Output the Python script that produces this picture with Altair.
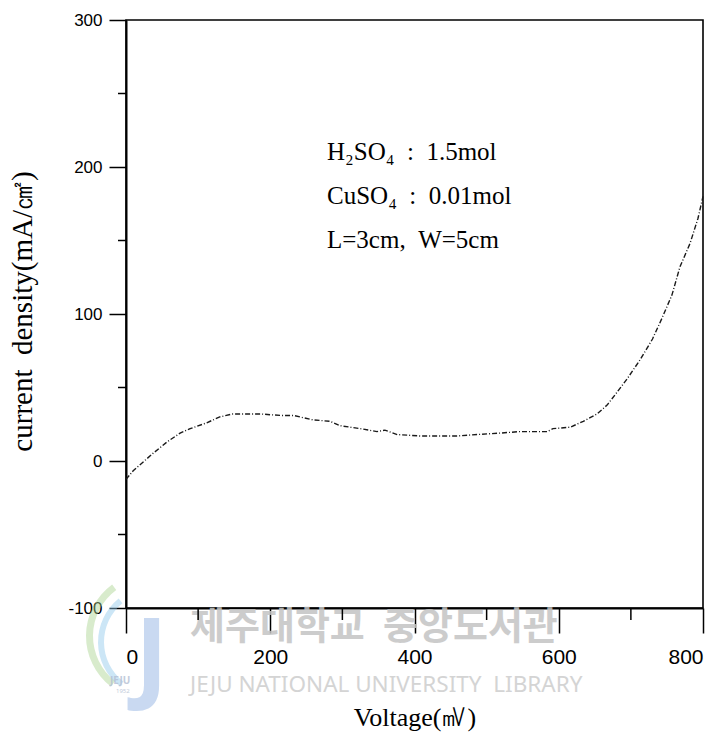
import altair as alt
import pandas as pd

# Polarisation curve: current density vs applied voltage
voltage_mv = [0, 10, 37, 57, 75, 89, 112, 130, 148, 186, 214, 232, 259, 283, 297,
              325, 348, 359, 376, 408, 435, 459, 487, 519, 546, 574, 584, 592, 616,
              634, 653, 667, 678, 695, 713, 730, 743, 757, 768, 782, 793, 800]
current_density = [-12.5, -6.6, 5, 13, 19, 22, 26, 30, 32, 32, 31, 31, 28, 27, 24,
                   22, 20, 21, 18, 17, 17, 17, 18, 19, 20, 20, 20, 22, 23,
                   27, 32, 38, 45, 56, 69, 83, 97, 113, 132, 148, 165, 180]

x_major = [0, 200, 400, 600, 800]
x_minor = [100, 300, 500, 700]
y_major = [-100, 0, 100, 200, 300]
y_minor = [-50, 50, 150, 250]

NB = "\u00a0"
conditions = [f"H\u2082SO\u2084{NB}{NB}:{NB}{NB}1.5mol",
              f"CuSO\u2084{NB}{NB}:{NB}{NB}0.01mol",
              f"L=3cm,{NB}{NB}W=5cm"]
watermark_kr = ["제주대학교", "중앙도서관"]
watermark_en = f"JEJU NATIONAL UNIVERSITY{NB}{NB}LIBRARY"

# plot area geometry on the page
LEFT, TOP = 126, 20
W, H = 577, 588
SERIF = "Liberation Serif, Times New Roman, DejaVu Serif, serif"
TICKFONT = "Liberation Sans, Arial, sans-serif"
CJK = "Noto Sans CJK KR, Noto Sans, sans-serif"
SANS = "Noto Sans, DejaVu Sans, sans-serif"

xs = alt.Scale(domain=[0, 800], nice=False, zero=False)
ys = alt.Scale(domain=[-100, 300], nice=False, zero=False)

X_TITLE = "Voltage(㎷)"
Y_TITLE = f"current{NB}{NB}density(mA/㎠)"

x_axis = alt.Axis(values=x_major, tickSize=25, tickWidth=1.5, labelPadding=13,
                  labelFont=TICKFONT, labelFontSize=21, labelColor="black",
                  labelExpr="'' + datum.value",
                  domainColor="black", domainWidth=2, tickColor="black", grid=False,
                  titleFont=SERIF, titleFontSize=26, titleFontWeight="normal",
                  titleColor="black", titleBaseline="alphabetic", titleY=117)
y_axis = alt.Axis(values=y_major, tickSize=17, tickWidth=1.5, labelPadding=7,
                  labelFont=TICKFONT, labelFontSize=17, labelColor="black",
                  labelExpr="'' + datum.value",
                  domainColor="black", domainWidth=2, tickColor="black", grid=False,
                  titleFont=SERIF, titleFontSize=29, titleFontWeight="normal",
                  titleColor="black", titleAngle=270, titleAlign="center",
                  titleBaseline="alphabetic", titleX=-95, titleY=291)

curve_df = pd.DataFrame({"voltage": voltage_mv, "current": current_density})
one = pd.DataFrame({"k": [0]})


def page_text(text, px, py, size, font, color="black", align="left", opacity=1.0,
              baseline="alphabetic", weight="normal"):
    """Free text placed at page pixel (px, py)."""
    return alt.Chart(one).mark_text(
        text=text, align=align, baseline=baseline, fontSize=size, font=font,
        color=color, opacity=opacity, fontWeight=weight,
    ).encode(x=alt.value(px - LEFT), y=alt.value(py - TOP))


def page_arc(cx, cy, r_out, r_in, t0, t1, color, opacity):
    return alt.Chart(one).mark_arc(
        radius=r_out, radius2=r_in, theta=t0, theta2=t1, color=color, opacity=opacity
    ).encode(x=alt.value(cx - LEFT), y=alt.value(cy - TOP))


# library watermark, drawn underneath everything else
watermark = [
    page_arc(150, 636, 64, 57, 3.8, 5.65, "#a9d38f", 0.45),
    page_arc(154, 642, 56, 50, 3.8, 5.6, "#8fc8ea", 0.45),
    page_text("J", 168, 690, 100, SANS, color="#9dbbe6", align="right", opacity=0.55,
              weight="bold"),
    page_text("JEJU", 110, 684, 10, SANS, color="#b4bfd4", opacity=0.8, weight="bold"),
    page_text("1952", 116, 693, 6, SANS, color="#b4bfd4", opacity=0.8),
    page_text(watermark_kr[0], 190, 628, 38, CJK, color="#c4c4c4", opacity=0.85,
              baseline="middle", weight="bold"),
    page_text(watermark_kr[1], 383, 628, 38, CJK, color="#c4c4c4", opacity=0.85,
              baseline="middle", weight="bold"),
    page_text(watermark_en, 190, 692, 22.5, SANS, color="#cdcdcd", opacity=0.85),
]

line = alt.Chart(curve_df).mark_line(
    color="#1a1a1a", strokeWidth=1.4, strokeDash=[5, 2, 1, 2]
).encode(
    x=alt.X("voltage:Q", scale=xs, title=X_TITLE, axis=x_axis),
    y=alt.Y("current:Q", scale=ys, title=Y_TITLE, axis=y_axis),
)

# minor tick marks (outward, shorter than the labelled ones)
minor_x = alt.Chart(pd.DataFrame({"voltage": x_minor})).mark_rule(
    color="black", strokeWidth=1.5
).encode(x=alt.X("voltage:Q", scale=xs, title=X_TITLE, axis=x_axis),
         y=alt.value(H), y2=alt.value(H + 12))

minor_y = alt.Chart(pd.DataFrame({"current": y_minor})).mark_rule(
    color="black", strokeWidth=1.5
).encode(y=alt.Y("current:Q", scale=ys, title=Y_TITLE, axis=y_axis),
         x=alt.value(0), x2=alt.value(-8))

text_rows = [page_text(t, 327, 160 + 44 * i, 25, SERIF)
             for i, t in enumerate(conditions)]

chart = alt.layer(
    *watermark, minor_x, minor_y, line, *text_rows,
).properties(
    width=W, height=H,
    padding={"left": LEFT, "top": TOP, "right": 706 - LEFT - W, "bottom": 735 - TOP - H},
    autosize=alt.AutoSizeParams(type="none"),
    background="white",
).configure_view(
    stroke="black", strokeWidth=1.6
)

chart.save("out.html", embed_options={"renderer": "svg", "actions": False})
